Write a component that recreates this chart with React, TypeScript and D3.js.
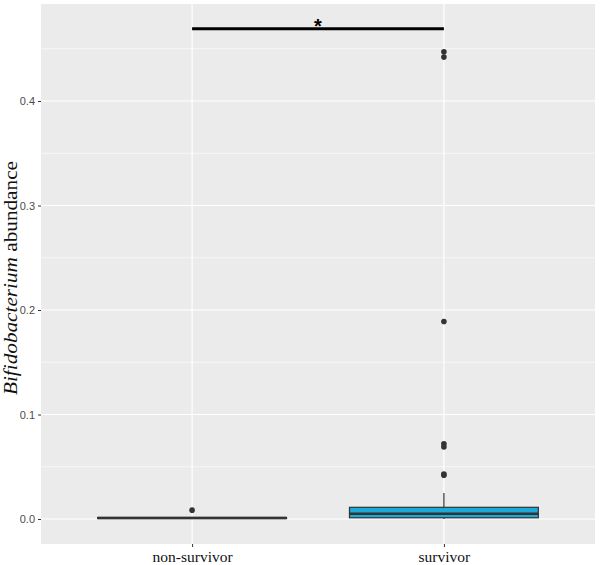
import React, { useEffect, useRef } from 'react';
import * as d3 from 'd3';

const groups = ['non-survivor', 'survivor'];
const q1 = [0.0005, 0.0012];
const medians = [0.001, 0.005];
const q3 = [0.0015, 0.0112];
const whiskerLow = [0.0, 0.0];
const whiskerHigh = [0.002, 0.025];
const outliers = [
  [0.0085],
  [0.447, 0.442, 0.189, 0.072, 0.069, 0.043, 0.042],
];
const fills = ['#333333', '#1CAAD9'];
const yTicks = [0, 0.1, 0.2, 0.3, 0.4];
const yMinor = [0.05, 0.15, 0.25, 0.35, 0.45];
const sigY = 0.469;

const App = () => {
  const ref = useRef<SVGSVGElement>(null);

  useEffect(() => {
    const svg = d3.select(ref.current);
    svg.selectAll('*').remove();

    const margin = { top: 4, right: 5, bottom: 21, left: 41 };
    const width = 600 - margin.left - margin.right;
    const height = 565 - margin.top - margin.bottom;

    // ggplot discrete expansion: 0.6 units each side
    const x = d3.scalePoint().domain(groups).range([0, width]).padding(0.6);
    const y = d3.scaleLinear().domain([-0.0239, 0.4928]).range([height, 0]);

    const g = svg.append('g').attr('transform', `translate(${margin.left},${margin.top})`);

    g.append('rect').attr('width', width).attr('height', height).attr('fill', '#EBEBEB');

    // minor grid
    g.selectAll('.minor').data(yMinor).enter().append('line')
      .attr('x1', 0).attr('x2', width)
      .attr('y1', d => y(d)).attr('y2', d => y(d))
      .attr('stroke', '#fff').attr('stroke-width', 0.6);
    // major grid
    g.selectAll('.major').data(yTicks).enter().append('line')
      .attr('x1', 0).attr('x2', width)
      .attr('y1', d => y(d)).attr('y2', d => y(d))
      .attr('stroke', '#fff').attr('stroke-width', 1.2);
    g.selectAll('.vgrid').data(groups).enter().append('line')
      .attr('x1', d => x(d)!).attr('x2', d => x(d)!)
      .attr('y1', 0).attr('y2', height)
      .attr('stroke', '#fff').attr('stroke-width', 1.2);

    // y axis
    const yAxis = g.append('g').call(d3.axisLeft(y).tickValues(yTicks).tickFormat(d3.format('.1f')).tickSize(3).tickPadding(3));
    yAxis.select('.domain').remove();
    yAxis.selectAll('line').attr('stroke', '#333');
    yAxis.selectAll('text').attr('fill', '#4D4D4D').attr('font-size', 11).attr('font-family', 'Liberation Sans, Arial, sans-serif');

    // x axis
    const xAxis = g.append('g').attr('transform', `translate(0,${height})`)
      .call(d3.axisBottom(x).tickSize(3).tickPadding(4));
    xAxis.select('.domain').remove();
    xAxis.selectAll('line').attr('stroke', '#333');
    xAxis.selectAll('text').attr('fill', '#111').attr('font-size', 15.5).attr('font-family', 'Liberation Serif, Times New Roman, serif');

    // boxes
    const bw = x.step() * 0.75;
    groups.forEach((grp, i) => {
      const cx = x(grp)!;
      g.append('line')
        .attr('x1', cx).attr('x2', cx)
        .attr('y1', y(whiskerHigh[i])).attr('y2', y(q3[i]))
        .attr('stroke', '#333').attr('stroke-width', 1.2);
      g.append('line')
        .attr('x1', cx).attr('x2', cx)
        .attr('y1', y(q1[i])).attr('y2', y(whiskerLow[i]))
        .attr('stroke', '#333').attr('stroke-width', 1.2);
      g.append('rect')
        .attr('x', cx - bw / 2).attr('width', bw)
        .attr('y', y(q3[i])).attr('height', Math.max(0.5, y(q1[i]) - y(q3[i])))
        .attr('fill', fills[i]).attr('stroke', '#333').attr('stroke-width', 1.2);
      g.append('line')
        .attr('x1', cx - bw / 2).attr('x2', cx + bw / 2)
        .attr('y1', y(medians[i])).attr('y2', y(medians[i]))
        .attr('stroke', '#333').attr('stroke-width', 2.4);
      g.selectAll(`.out${i}`).data(outliers[i]).enter().append('circle')
        .attr('cx', cx).attr('cy', d => y(d)).attr('r', 2.8).attr('fill', '#333');
    });

    // significance bar
    const x0 = x(groups[0])!;
    const x1 = x(groups[1])!;
    g.append('line')
      .attr('x1', x0).attr('x2', x1)
      .attr('y1', y(sigY)).attr('y2', y(sigY))
      .attr('stroke', '#000').attr('stroke-width', 3);
    g.append('text')
      .attr('x', (x0 + x1) / 2).attr('y', y(sigY) + 4)
      .attr('text-anchor', 'middle').attr('font-size', 20).attr('font-weight', 'bold')
      .attr('fill', '#000')
      .attr('font-family', 'Liberation Sans, Arial, sans-serif')
      .text('*');

    // y title
    const t = svg.append('text')
      .attr('transform', `translate(17,${margin.top + height / 2 + 4}) rotate(-90)`)
      .attr('text-anchor', 'middle')
      .attr('font-size', 18)
      .attr('textLength', 234)
      .attr('lengthAdjust', 'spacingAndGlyphs')
      .attr('font-family', 'Liberation Serif, Times New Roman, serif')
      .attr('fill', '#111');
    t.append('tspan').attr('font-style', 'italic').text('Bifidobacterium');
    t.append('tspan').text(' abundance');
  }, []);

  return <svg ref={ref} width={600} height={565} style={{ position: 'absolute', left: 0, top: 0, background: '#fff' }} />;
};

export default App;
